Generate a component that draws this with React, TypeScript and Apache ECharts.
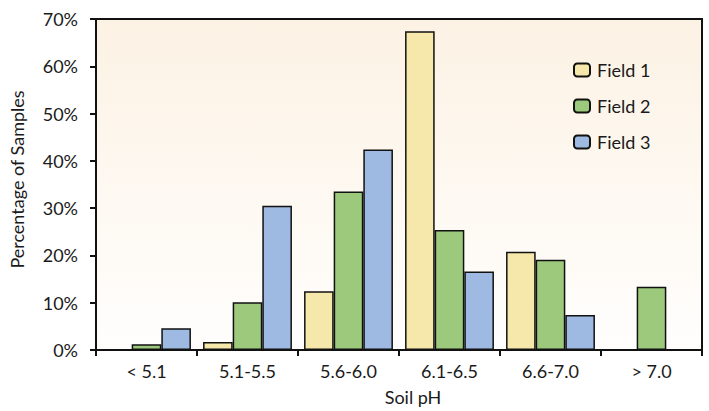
import React, { useEffect, useRef } from "react";
import * as echarts from "echarts";

const categories = ["< 5.1", "5.1-5.5", "5.6-6.0", "6.1-6.5", "6.6-7.0", "> 7.0"];
const field1 = [0, 1.7, 12.4, 67.4, 20.8, 0];
const field2 = [1.2, 10.1, 33.5, 25.4, 19.1, 13.4];
const field3 = [4.6, 30.5, 42.4, 16.6, 7.4, 0];
const seriesNames = ["Field 1", "Field 2", "Field 3"];
const colors = ["#f6e8aa", "#9cc97b", "#9fbae2"];
const yTicks = [0, 10, 20, 30, 40, 50, 60, 70];

const FONT = "Lato, 'Open Sans', sans-serif";

export default function App() {
  const ref = useRef<HTMLDivElement>(null);
  useEffect(() => {
    const chart = echarts.init(ref.current!, null, { renderer: "svg" });
    const data = [field1, field2, field3];
    chart.setOption({
      animation: false,
      textStyle: { fontFamily: FONT },
      grid: {
        left: 96,
        right: 7,
        top: 19,
        bottom: 59,
        show: true,
        borderColor: "#111",
        borderWidth: 2,
        backgroundColor: new echarts.graphic.LinearGradient(0, 0, 0, 1, [
          { offset: 0, color: "#fcf2e4" },
          { offset: 1, color: "#fffefd" },
        ]),
      },
      legend: {
        left: 573,
        top: 61,
        padding: 0,
        orient: "vertical",
        itemWidth: 16,
        itemHeight: 13,
        itemGap: 18,
        data: seriesNames,
        textStyle: { fontSize: 18, color: "#1a1a1a", fontFamily: FONT, padding: [0, 0, 0, 2] },
      },
      xAxis: {
        type: "category",
        data: categories,
        name: "Soil pH",
        nameLocation: "middle",
        nameGap: 38,
        nameTextStyle: { fontSize: 18, color: "#1a1a1a", fontFamily: FONT, padding: [0, 0, 0, 28] },
        axisLine: { lineStyle: { color: "#111", width: 2 } },
        axisTick: { show: true, length: 6, lineStyle: { color: "#111", width: 2 } },
        axisLabel: { fontSize: 18, color: "#1a1a1a", margin: 12, fontFamily: FONT },
      },
      yAxis: {
        type: "value",
        min: 0,
        max: 70,
        interval: 10,
        name: "Percentage of Samples",
        nameLocation: "middle",
        nameGap: 70,
        nameTextStyle: { fontSize: 18, color: "#1a1a1a", fontFamily: FONT, padding: [0, 0, 0, 10] },
        splitLine: { show: false },
        axisLine: { show: true, lineStyle: { color: "#111", width: 2 } },
        axisTick: { show: true, length: 6, lineStyle: { color: "#111", width: 2 } },
        axisLabel: {
          fontSize: 18,
          color: "#1a1a1a",
          margin: 18,
          fontFamily: FONT,
          formatter: (v: number) => (yTicks.includes(v) ? v + "%" : ""),
        },
      },
      series: data.map((d, i) => ({
        name: seriesNames[i],
        type: "bar",
        data: d,
        barGap: "0%",
        barCategoryGap: "12%",
        itemStyle: { color: colors[i], borderColor: "#111", borderWidth: 1.5 },
      })),
    });
    return () => chart.dispose();
  }, []);
  return (
    <div
      ref={ref}
      style={{ position: "fixed", left: 0, top: 0, width: 709, height: 411, background: "#fff" }}
    />
  );
}
